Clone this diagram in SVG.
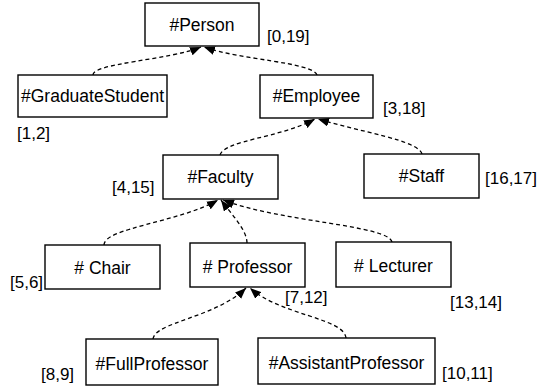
<svg xmlns="http://www.w3.org/2000/svg" width="548" height="389" viewBox="0 0 548 389">
<defs>
<style>
.box{fill:#fff;stroke:#000;stroke-width:1.4}
.t{font-family:"Liberation Sans",Arial,sans-serif;font-size:17.5px;fill:#000;text-anchor:middle}
.l{font-family:"Liberation Sans",Arial,sans-serif;font-size:17px;fill:#000}
.c{fill:none;stroke:#000;stroke-width:1.3;stroke-dasharray:4 3}
</style>
<marker id="arr" viewBox="0 0 10 8" refX="10" refY="4" markerWidth="11" markerHeight="9" orient="auto" markerUnits="userSpaceOnUse">
<path d="M0,0 L10,4 L0,8 z" fill="#000"/>
</marker>
</defs>
<rect width="548" height="389" fill="#fff"/>
<g id="connectors">
<path class="c" marker-end="url(#arr)" d="M93,75 C93,63 170,60 201,47"/>
<path class="c" marker-end="url(#arr)" d="M317,75 C312,62 240,60 204,47"/>
<path class="c" marker-end="url(#arr)" d="M220,155 C225,140 280,138 315,119"/>
<path class="c" marker-end="url(#arr)" d="M422,154 C418,140 360,132 318,119"/>
<path class="c" marker-end="url(#arr)" d="M104,245 C104,228 180,222 218,200"/>
<path class="c" marker-end="url(#arr)" d="M247,243 C247,230 232,215 221,200"/>
<path class="c" marker-end="url(#arr)" d="M392,242 C388,225 280,222 223,200"/>
<path class="c" marker-end="url(#arr)" d="M153,339 C155,322 215,318 246,288"/>
<path class="c" marker-end="url(#arr)" d="M346,338 C344,318 280,315 250,288"/>
</g>
<g id="person"><rect class="box" x="145" y="3" width="114" height="43"/><text class="t" x="202" y="31">#Person</text><text class="l" x="267" y="42">[0,19]</text></g>
<g id="graduatestudent"><rect class="box" x="18" y="75" width="149" height="42"/><text class="t" x="92.5" y="102">#GraduateStudent</text><text class="l" x="17" y="139">[1,2]</text></g>
<g id="employee"><rect class="box" x="260" y="75" width="113" height="43"/><text class="t" x="316.5" y="102">#Employee</text><text class="l" x="383" y="114">[3,18]</text></g>
<g id="faculty"><rect class="box" x="163" y="155" width="115" height="44"/><text class="t" x="220.5" y="183">#Faculty</text><text class="l" x="112" y="193">[4,15]</text></g>
<g id="staff"><rect class="box" x="364" y="154" width="115" height="44"/><text class="t" x="421.5" y="182">#Staff</text><text class="l" x="485" y="184">[16,17]</text></g>
<g id="chair"><rect class="box" x="45" y="245" width="115" height="44"/><text class="t" x="102.5" y="274">#&#160;Chair</text><text class="l" x="10" y="288">[5,6]</text></g>
<g id="professor"><rect class="box" x="190" y="243" width="115" height="44"/><text class="t" x="247.5" y="273">#&#160;Professor</text><text class="l" x="285" y="303">[7,12]</text></g>
<g id="lecturer"><rect class="box" x="336" y="242" width="115" height="45"/><text class="t" x="393.5" y="272">#&#160;Lecturer</text><text class="l" x="450" y="308">[13,14]</text></g>
<g id="fullprofessor"><rect class="box" x="86" y="339" width="132" height="46"/><text class="t" x="152" y="370">#FullProfessor</text><text class="l" x="41" y="380">[8,9]</text></g>
<g id="assistantprofessor"><rect class="box" x="258" y="338" width="177" height="46"/><text class="t" x="346.5" y="369">#AssistantProfessor</text><text class="l" x="442" y="379">[10,11]</text></g>
</svg>
